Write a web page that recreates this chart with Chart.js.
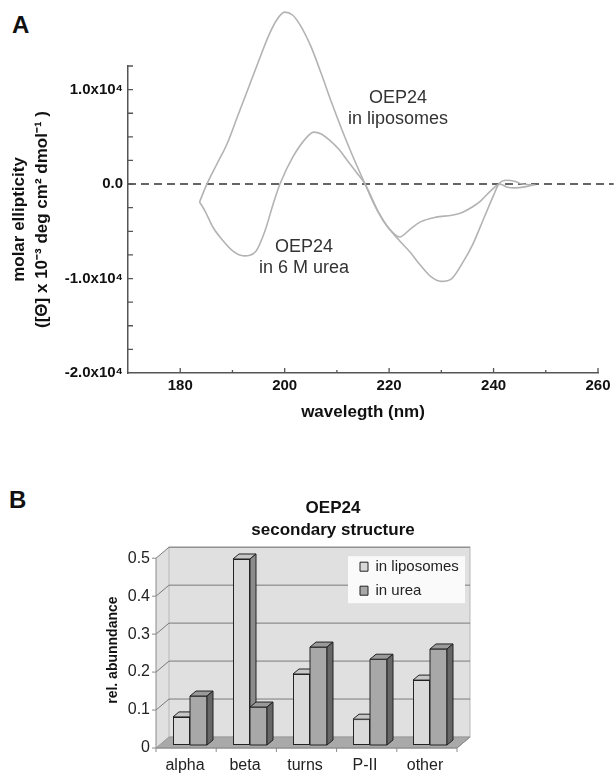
<!DOCTYPE html>
<html>
<head>
<meta charset="utf-8">
<script src="https://cdn.jsdelivr.net/npm/chart.js@4.4.1/dist/chart.umd.min.js"></script>
<style>
  body { margin: 0; background: #fff; width: 615px; height: 774px; position: relative; overflow: hidden; font-family: "Liberation Sans", Arial, sans-serif; }
  .panel { position: absolute; font-weight: bold; font-size: 24px; line-height: 24px; color: #111; }
  #cdA { position: absolute; left: 0; top: 0; }
  #cdB { position: absolute; left: 68px; top: 480px; }
</style>
</head>
<body>
<div class="panel" style="left:12px;top:13px">A</div>
<div class="panel" style="left:9px;top:488px">B</div>
<canvas id="cdA" width="615" height="440"></canvas>
<canvas id="cdB" width="530" height="294"></canvas>
<script>
// ---- panel A: CD spectra (molar ellipticity, deg cm2 dmol-1) ----
const lipoWavelength = [183.7, 185.1, 187, 189, 191, 193, 195, 197, 198.5, 200, 201.5, 203, 205, 207, 209, 211, 213, 215.4,
  217, 219, 222, 224, 226, 228, 230, 232, 234, 236, 238, 240, 241, 242.5, 244, 245.5, 248];
const lipoEllipticity = [-1900, 0, 2100, 4300, 7200, 10100, 13000, 15800, 17400, 18200, 17900, 16800, 14600, 11700, 8600, 5700, 3000, 0,
  -2000, -4000, -6000, -7200, -8600, -9800, -10300, -10000, -8400, -6400, -3800, -1200, 0, 400, 300, 0, -100];

const ureaWavelength = [183.7, 184.7, 186.3, 188.2, 190.1, 192.2, 194.5, 196.2, 197.8, 199.1, 201.6, 204.3, 205.6, 207, 208.7, 210.5, 212, 213.8, 215.4,
  218, 220, 222, 224, 226, 229, 232, 234, 236, 237.5, 239.5, 241.2, 242.5, 244, 246, 247.5];
const ureaEllipticity = [-1900, -2800, -4600, -6000, -7100, -7600, -7100, -5000, -2100, 0, 2900, 5000, 5500, 5300, 4600, 3600, 2500, 1200, 0,
  -3000, -4700, -5600, -4800, -4000, -3500, -3300, -3000, -2400, -1800, -700, 0, -300, -400, -300, -100];

const zeroWavelength = [170, 263];
const zeroEllipticity = [0, 0];

const xTickLabels = {180: '180', 200: '200', 220: '220', 240: '240', 260: '260'};
const yTickLabels = {'-20000': '-2.0x10⁴', '-10000': '-1.0x10⁴', '0': '0.0', '10000': '1.0x10⁴'};

// ---- panel B: secondary structure ----
const categories = ['alpha', 'beta', 'turns', 'P-II', 'other'];
const inLiposomes = [0.074, 0.49, 0.187, 0.068, 0.171];
const inUrea = [0.129, 0.10, 0.258, 0.226, 0.253];

const fontFamily = '"Liberation Sans", Arial, sans-serif';
const toXY = (xs, ys) => xs.map((x, i) => ({x: x, y: ys[i]}));

// curve labels, placed in data coordinates
const curveNotes = [
  {x: 221.7, y: 9100, lines: ['OEP24', 'in liposomes']},
  {x: 203.7, y: -6650, lines: ['OEP24', 'in 6 M urea']}
];

const inwardTicks = {
  id: 'inwardTicks',
  afterDraw(chart) {
    const {ctx, chartArea: a} = chart;
    const xs = chart.scales.x, ys = chart.scales.y;
    ctx.save();
    ctx.strokeStyle = '#555';
    ctx.lineWidth = 1.3;
    ctx.beginPath();
    xs.ticks.forEach(t => {
      if (t.value <= xs.min) return;
      const px = xs.getPixelForValue(t.value);
      const len = t.value % 20 === 0 ? 5 : 3;
      ctx.moveTo(px, a.bottom);
      ctx.lineTo(px, a.bottom - len);
    });
    ys.ticks.forEach(t => {
      if (t.value <= ys.min) return;
      const py = ys.getPixelForValue(t.value);
      ctx.moveTo(a.left, py);
      ctx.lineTo(a.left + 5, py);
    });
    ctx.stroke();

    ctx.fillStyle = '#333';
    ctx.font = '18px ' + fontFamily;
    ctx.textAlign = 'center';
    ctx.textBaseline = 'middle';
    curveNotes.forEach(n => {
      const px = xs.getPixelForValue(n.x), py = ys.getPixelForValue(n.y);
      n.lines.forEach((s, i) => ctx.fillText(s, px, py + i * 21));
    });
    ctx.restore();
  }
};

new Chart(document.getElementById('cdA'), {
  type: 'line',
  data: {
    datasets: [
      {label: 'OEP24 in liposomes', data: toXY(lipoWavelength, lipoEllipticity), borderColor: '#b3b3b3', borderWidth: 1.6,
        pointRadius: 0, cubicInterpolationMode: 'monotone', clip: false, fill: false},
      {label: 'OEP24 in 6 M urea', data: toXY(ureaWavelength, ureaEllipticity), borderColor: '#b3b3b3', borderWidth: 1.6,
        pointRadius: 0, cubicInterpolationMode: 'monotone', clip: false, fill: false},
      {label: 'zero', data: toXY(zeroWavelength, zeroEllipticity), borderColor: '#333', borderWidth: 1.5,
        borderDash: [8, 5], pointRadius: 0, clip: false, fill: false}
    ]
  },
  options: {
    responsive: false,
    animation: false,
    layout: {padding: {left: 0, top: 66, right: 17, bottom: 0}},
    plugins: {legend: {display: false}, tooltip: {enabled: false}},
    scales: {
      x: {
        type: 'linear', min: 170, max: 260,
        grid: {display: false, drawTicks: false},
        border: {display: true, color: '#555', width: 1.5},
        ticks: {stepSize: 10, padding: 4, color: '#111', font: {family: fontFamily, size: 15, weight: 'bold'},
          autoSkip: false, maxRotation: 0, callback: v => xTickLabels[v] || ''},
        title: {display: true, text: 'wavelegth (nm)', color: '#111', font: {family: fontFamily, size: 17, weight: 'bold'},
          padding: {top: 0, bottom: 17}},
        afterFit: s => { s.height = 67; }
      },
      y: {
        type: 'linear', min: -20000, max: 12500,
        grid: {display: false, drawTicks: false},
        border: {display: true, color: '#555', width: 1.5},
        ticks: {stepSize: 2500, padding: 5, color: '#111', font: {family: fontFamily, size: 15, weight: 'bold'},
          autoSkip: false, callback: v => yTickLabels[String(v)] || ''},
        title: {display: true, text: ['molar ellipticity', '([Θ] x 10⁻³ deg cm² dmol⁻¹ )'], color: '#111',
          font: {family: fontFamily, size: 17, weight: 'bold', lineHeight: 1.35}, padding: {top: 8, bottom: 0}},
        afterFit: s => { s.width = 128; }
      }
    }
  },
  plugins: [inwardTicks]
});

// ---- panel B drawing helpers ----
const depthX = 13, depthY = 11;   // wall depth
const barDX = 6, barDY = 5;       // bar depth

function poly(ctx, pts, fill, stroke) {
  ctx.beginPath();
  ctx.moveTo(pts[0][0], pts[0][1]);
  for (let i = 1; i < pts.length; i++) ctx.lineTo(pts[i][0], pts[i][1]);
  ctx.closePath();
  if (fill) { ctx.fillStyle = fill; ctx.fill(); }
  if (stroke) { ctx.strokeStyle = stroke; ctx.stroke(); }
}

const walls = {
  id: 'walls',
  afterLayout(chart) {
    const lg = chart.legend, a = chart.chartArea;
    lg.left = a.left + 191;
    lg.top = a.top - 5;
    lg.right = lg.left + lg.width;
    lg.bottom = lg.top + lg.height;
  },
  beforeDraw(chart) {
    const {ctx, chartArea: a} = chart;
    const ys = chart.scales.y;
    const fl = a.left - 4, fr = a.right - 3, fb = a.bottom + 3, ft = ys.getPixelForValue(0.5) + 3;
    ctx.save();
    ctx.lineWidth = 1;
    // side + back wall
    poly(ctx, [[fl, fb], [fl, ft], [fl + depthX, ft - depthY], [fr + depthX, ft - depthY], [fr + depthX, fb - depthY], [fr, fb]], '#e0e0e0', null);
    ctx.strokeStyle = '#b8b8b8';
    ctx.strokeRect(fl + depthX, ft - depthY, fr - fl, fb - ft);
    // floor
    poly(ctx, [[fl, fb], [fr, fb], [fr + depthX, fb - depthY], [fl + depthX, fb - depthY]], '#a9a9a9', '#999');
    // grid lines
    ctx.strokeStyle = '#7a7a7a';
    ctx.beginPath();
    ys.ticks.forEach(t => {
      if (t.value <= 0) return;
      const yf = ys.getPixelForValue(t.value) + 3;
      ctx.moveTo(fl, yf);
      ctx.lineTo(fl + depthX, yf - depthY);
      ctx.lineTo(fr + depthX, yf - depthY);
    });
    ctx.stroke();
    // front axes with small ticks
    ctx.strokeStyle = '#8a8a8a';
    ctx.beginPath();
    ctx.moveTo(fl, ft); ctx.lineTo(fl, fb); ctx.lineTo(fr, fb); ctx.lineTo(fr + depthX, fb - depthY);
    ys.ticks.forEach(t => {
      const yf = ys.getPixelForValue(t.value) + 3;
      ctx.moveTo(fl - 4, yf); ctx.lineTo(fl, yf);
    });
    const step = (fr - fl) / categories.length;
    for (let i = 0; i <= categories.length; i++) {
      ctx.moveTo(fl + i * step, fb); ctx.lineTo(fl + i * step, fb + 4);
    }
    ctx.stroke();
    // legend box
    ctx.fillStyle = '#fafafa';
    ctx.fillRect(a.left + 188, a.top + 1, 117, 47);
    ctx.restore();
  },
  afterDatasetsDraw(chart) {
    const ctx = chart.ctx;
    const m0 = chart.getDatasetMeta(0), m1 = chart.getDatasetMeta(1);
    const faces = (bar, front, top, side, redraw) => {
      const p = bar.getProps(['x', 'y', 'base', 'width'], true);
      const l = p.x - p.width / 2, r = p.x + p.width / 2;
      if (redraw) poly(ctx, [[l, p.y], [r, p.y], [r, p.base], [l, p.base]], front, '#222');
      poly(ctx, [[l, p.y], [l + barDX, p.y - barDY], [r + barDX, p.y - barDY], [r, p.y]], top, '#222');
      poly(ctx, [[r, p.y], [r + barDX, p.y - barDY], [r + barDX, p.base - barDY], [r, p.base]], side, '#222');
    };
    ctx.save();
    ctx.lineWidth = 1;
    categories.forEach((c, i) => {
      faces(m0.data[i], '#d9d9d9', '#c6c6c6', '#8c8c8c', false);
      faces(m1.data[i], '#a8a8a8', '#9a9a9a', '#666', true);
    });
    ctx.restore();
  }
};

new Chart(document.getElementById('cdB'), {
  type: 'bar',
  data: {
    labels: categories,
    datasets: [
      {label: 'in liposomes', data: inLiposomes, backgroundColor: '#d9d9d9', borderColor: '#222', borderWidth: 1,
        borderSkipped: false, categoryPercentage: 0.567, barPercentage: 1},
      {label: 'in urea', data: inUrea, backgroundColor: '#a8a8a8', borderColor: '#222', borderWidth: 1,
        borderSkipped: false, categoryPercentage: 0.567, barPercentage: 1}
    ]
  },
  options: {
    responsive: false,
    animation: false,
    layout: {padding: 0},
    plugins: {
      tooltip: {enabled: false},
      title: {display: true, text: ['OEP24', 'secondary structure'], color: '#111',
        font: {family: fontFamily, size: 17, weight: 'bold', lineHeight: 1.3}, padding: {top: 17, bottom: 14}},
      legend: {display: true, position: 'chartArea', align: 'start',
        labels: {boxWidth: 8, boxHeight: 9, padding: 9, color: '#222', font: {family: fontFamily, size: 15}}}
    },
    scales: {
      x: {
        grid: {display: false, drawTicks: false},
        border: {display: false},
        ticks: {padding: 11, labelOffset: -5, color: '#222', font: {family: fontFamily, size: 16}},
        afterFit: s => { s.height = 29; }
      },
      y: {
        min: 0, max: 0.5,
        grid: {display: false, drawTicks: false},
        border: {display: false},
        ticks: {stepSize: 0.1, padding: 10, labelOffset: 3, color: '#222', font: {family: fontFamily, size: 16},
          callback: v => v === 0 ? '0' : v.toFixed(1)},
        title: {display: true, text: 'rel. abunndance', color: '#111', font: {family: fontFamily, size: 14, weight: 'bold'},
          padding: {top: 37, bottom: 0}},
        afterFit: s => { s.width = 92; }
      },
      spacer: {
        type: 'linear', position: 'right', display: true,
        grid: {display: false, drawTicks: false},
        border: {display: false},
        ticks: {display: false},
        afterFit: s => { s.width = 138; }
      }
    }
  },
  plugins: [walls]
});
</script>
</body>
</html>
